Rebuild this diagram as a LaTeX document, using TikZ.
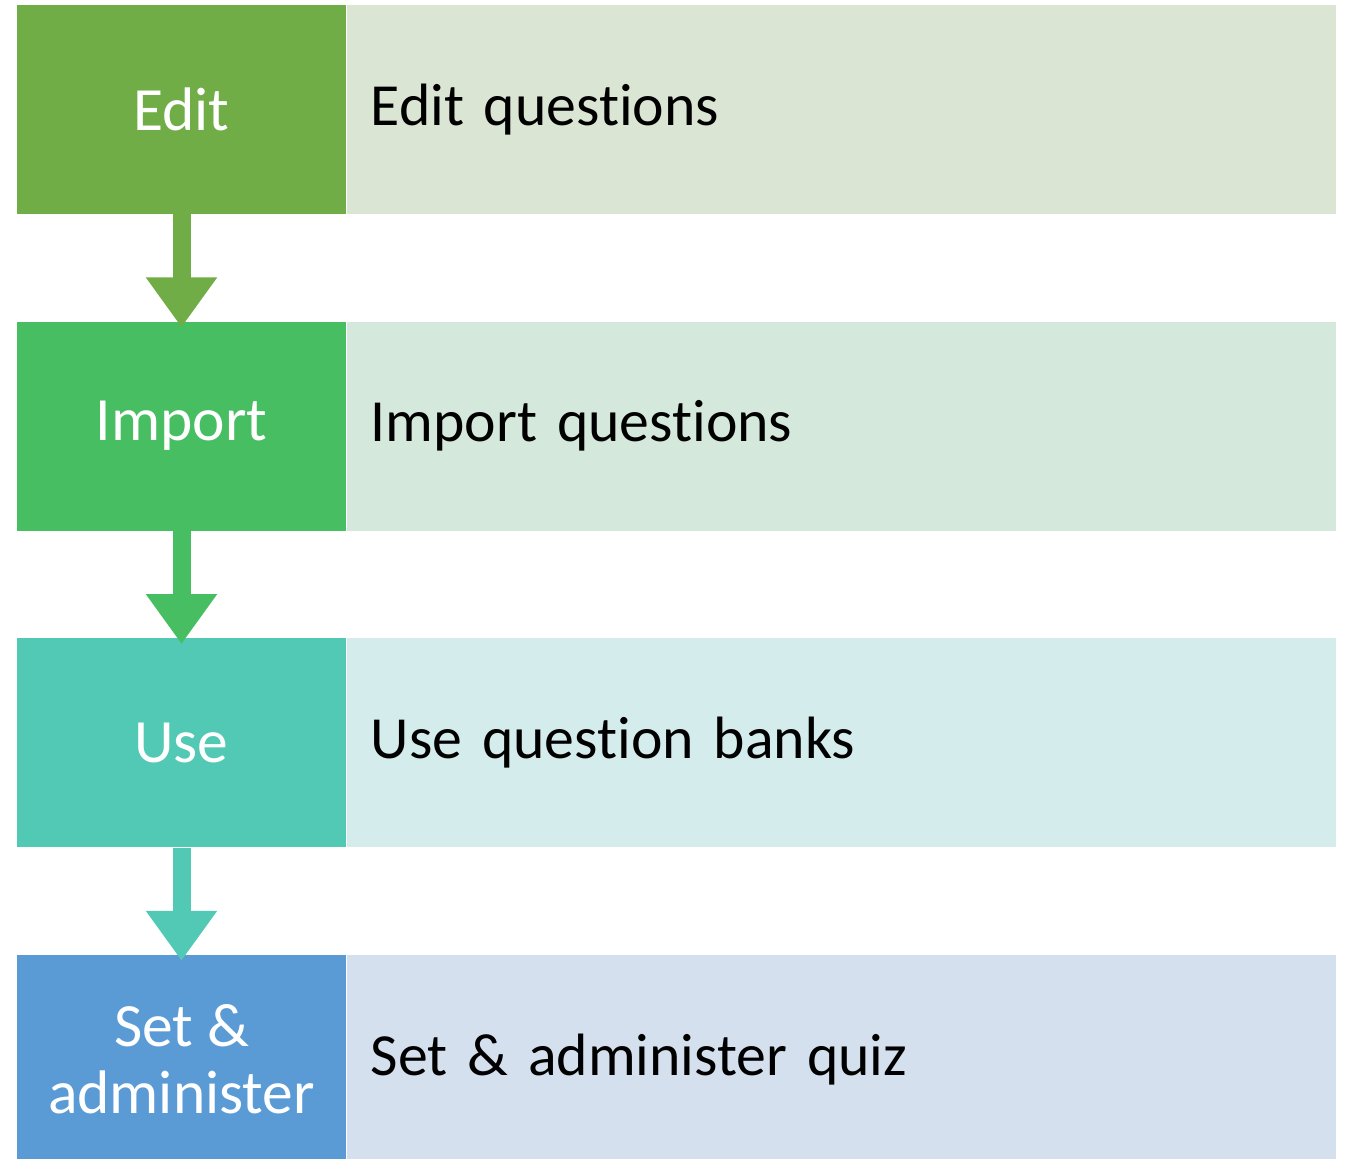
\documentclass[tikz,border=0pt]{standalone}
\usepackage{fontspec}
\setmainfont[Ligatures=NoCommon]{Carlito}
\usetikzlibrary{positioning,arrows.meta}

\definecolor{editdark}{HTML}{70AD47}
\definecolor{editlight}{HTML}{DAE5D3}
\definecolor{importdark}{HTML}{48BE62}
\definecolor{importlight}{HTML}{D4E8DB}
\definecolor{usedark}{HTML}{52C9B5}
\definecolor{uselight}{HTML}{D4ECEB}
\definecolor{setdark}{HTML}{5B9BD5}
\definecolor{setlight}{HTML}{D5E0EE}

\tikzset{
  lbox/.style={fill=#1, text=white, minimum width=6.58cm, minimum height=4.18cm,
    inner sep=0pt, align=center, font=\fontsize{35}{38}\selectfont},
  rbox/.style={fill=#1, text=black, text width=18.82cm, minimum height=4.18cm,
    inner xsep=0.48cm, inner ysep=0pt, align=left, font=\fontsize{34}{40}\selectfont},
  stepdown/.style={#1, line width=0.36cm, -{Triangle[width=1.36cm, length=1.0cm]}}
}

\begin{document}
\begin{tikzpicture}
  \useasboundingbox (0, 0) rectangle (26.96, 23.18);

  % Steps
  \node [lbox=editdark] (edit) at (3.63, 20.99) {Edit};
  \node [lbox=importdark, below=2.14cm of edit] (import) {Import};
  \node [lbox=usedark, below=2.14cm of import] (use) {Use};
  \node [lbox=setdark, below=2.14cm of use] (set) {Set \&\\administer};

  % Descriptions
  \node [rbox=editlight, right=0pt of edit] (editdesc) {Edit questions};
  \node [rbox=importlight, right=0pt of import] (importdesc) {Import questions};
  \node [rbox=uselight, right=0pt of use] (usedesc) {Use question banks};
  \node [rbox=setlight, right=0pt of set] (setdesc) {Set \& administer quiz};

  % Arrows
  \draw [stepdown=editdark] (edit.south) -- ([yshift=-0.12cm]import.north);
  \draw [stepdown=importdark] (import.south) -- ([yshift=-0.12cm]use.north);
  \draw [stepdown=usedark] (use.south) -- ([yshift=-0.12cm]set.north);
\end{tikzpicture}
\end{document}
